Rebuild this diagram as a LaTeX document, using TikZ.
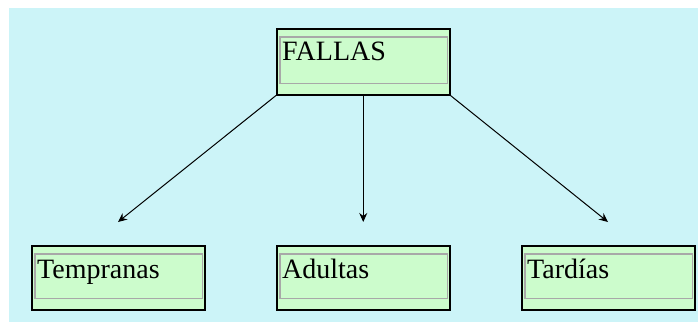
\documentclass[tikz,border=0pt]{standalone}
\usepackage{fontspec}
\setmainfont{Liberation Serif}
\usetikzlibrary{arrows.meta,calc}
\definecolor{bgcyan}{HTML}{CCF4F8}
\definecolor{boxgreen}{HTML}{CCFCCC}
\definecolor{innergrey}{HTML}{A8A8A8}
\begin{document}
\begin{tikzpicture}[x=1pt,y=-1pt,
  outerbox/.style={draw=black,line width=1.5pt,fill=boxgreen,rectangle,inner sep=0pt,
    minimum width=173pt,minimum height=64pt,anchor=north west},
  innerbox/.style={draw=innergrey,line width=1.8pt},
  lbl/.style={font=\fontsize{28}{30}\selectfont,anchor=base west,inner sep=0pt},
  conn/.style={line width=1pt,-{Stealth[length=9pt,width=8pt]}}]
\useasboundingbox (0,0) rectangle (698,322);
\fill[bgcyan] (9,8) rectangle (698,322);
% boxes
\node[outerbox,minimum height=66pt] (fallas) at (276,28) {};
\node[outerbox] (tempranas) at (31,245) {};
\node[outerbox] (adultas) at (276,245) {};
\node[outerbox] (tardias) at (521,245) {};
\foreach \n in {fallas,tempranas,adultas,tardias}{
  \draw[innerbox] ($(\n.north west)+(4,9)$) rectangle ($(\n.south east)+(-3,-12)$);
}
% labels
\node[lbl] (tfallas) at (282,60) {FALLAS};
\node[lbl] (ttempranas) at (37,278) {Tempranas};
\node[lbl] (tadultas) at (282,278) {Adultas};
\node[lbl] (ttardias) at (527,278) {Tardías};
% arrow ends
\coordinate (e1) at (118,222);
\coordinate (e2) at (fallas.south |- 0,222);
\coordinate (e3) at (608,222);
\draw[conn] (fallas.south west) -- (e1);
\draw[conn] (fallas.south) -- (e2);
\draw[conn] (fallas.south east) -- (e3);
\end{tikzpicture}
\end{document}
